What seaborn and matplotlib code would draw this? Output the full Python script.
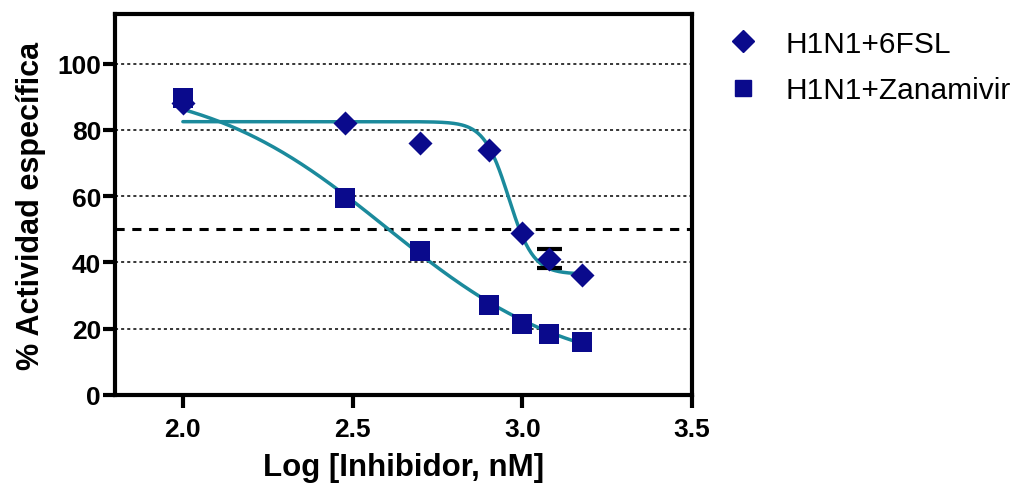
import numpy as np
import pandas as pd
import matplotlib
matplotlib.use("Agg")
import matplotlib.pyplot as plt
import seaborn as sns
from matplotlib.lines import Line2D

# ---- data ----
log_conc = [2.0, 2.477, 2.699, 2.903, 3.0, 3.079, 3.176]
fsl_vals = [88, 82, 76, 74, 49, 41.2, 36.3]
fsl_err = [0, 0, 0, 0, 0, 2.8, 0]
zan_vals = [89.5, 59.5, 43.5, 27.2, 21.5, 18.5, 16.0]

# 4-parameter logistic fits (bottom, top, logIC50, hill)
fsl_fit = [36.5, 82.5, 2.96, 12.0]
zan_fit = [6.0, 95.0, 2.60, 1.6]

series_names = ["H1N1+6FSL", "H1N1+Zanamivir"]
x_ticks = [2.0, 2.5, 3.0, 3.5]
y_ticks = [0, 20, 40, 60, 80, 100]
grid_lines = [20, 40, 60, 80, 100]
ref_line = 50


def four_pl(x, p):
    b, t, ic, h = p
    return b + (t - b) / (1 + 10 ** ((x - ic) * h))


sns.set_theme(style="white")
plt.rcParams['font.family'] = ['Liberation Sans', 'DejaVu Sans']
plt.rcParams['text.color'] = 'black'
plt.rcParams['axes.labelcolor'] = 'black'
plt.rcParams['xtick.color'] = 'black'
plt.rcParams['ytick.color'] = 'black'

fig = plt.figure(figsize=(10.16, 4.85), dpi=100)
ax = fig.add_axes([115 / 1016, 1 - 396 / 485, (692 - 115) / 1016, (396 - 15) / 485])

marker_col = "#0a0a8c"
curve_col = "#1b8a9c"

for g in grid_lines:
    ax.axhline(g, color="black", lw=1.1, ls=(0, (2, 2)), zorder=1)
ax.axhline(ref_line, color="black", lw=2.2, ls=(0, (3, 2.5)), zorder=1)

xs = np.linspace(log_conc[0], log_conc[-1], 300)
curves = pd.concat([
    pd.DataFrame({"x": xs, "y": four_pl(xs, fsl_fit), "s": series_names[0]}),
    pd.DataFrame({"x": xs, "y": four_pl(xs, zan_fit), "s": series_names[1]}),
])
sns.lineplot(data=curves, x="x", y="y", hue="s", palette=[curve_col, curve_col],
             lw=2.5, legend=False, ax=ax, zorder=2)

ax.errorbar(log_conc, fsl_vals, yerr=[e if e > 0 else np.nan for e in fsl_err],
            fmt="none", ecolor="black", elinewidth=2.5, capsize=9, capthick=3, zorder=3)

pts = pd.concat([
    pd.DataFrame({"x": log_conc, "y": fsl_vals, "s": series_names[0]}),
    pd.DataFrame({"x": log_conc, "y": zan_vals, "s": series_names[1]}),
])
sns.scatterplot(data=pts[pts.s == series_names[0]], x="x", y="y", marker="D", s=150,
                color=marker_col, edgecolor=marker_col, linewidth=0, ax=ax, zorder=4, legend=False)
sns.scatterplot(data=pts[pts.s == series_names[1]], x="x", y="y", marker="s", s=190,
                color=marker_col, edgecolor=marker_col, linewidth=0, ax=ax, zorder=4, legend=False)

ax.set_xlim(1.8, 3.5)
ax.set_ylim(0, 115)
ax.set_xticks(x_ticks)
ax.set_xticklabels([f"{v:.1f}" for v in x_ticks])
ax.set_yticks(y_ticks)
ax.set_yticklabels([str(v) for v in y_ticks])
ax.tick_params(axis="both", direction="out", length=9, width=3, labelsize=19,
               left=True, bottom=True, colors="black")
for lab in ax.get_xticklabels() + ax.get_yticklabels():
    lab.set_fontweight("bold")
ax.tick_params(axis="x", pad=7)
ax.tick_params(axis="y", pad=1)
for sp in ax.spines.values():
    sp.set_linewidth(3)
    sp.set_color("black")

ax.set_xlabel("Log [Inhibidor, nM]", fontsize=22.5, fontweight="bold", labelpad=8)
ax.set_ylabel("% Actividad específica", fontsize=22, fontweight="bold", labelpad=8)

handles = [
    Line2D([], [], marker="D", ls="none", color=marker_col, markersize=11),
    Line2D([], [], marker="s", ls="none", color=marker_col, markersize=12),
]
fig.legend(handles, series_names, loc="upper left", bbox_to_anchor=(697 / 1016, 1 - 4 / 485),
           frameon=False, fontsize=21.5, handletextpad=0.75, labelspacing=0.62, handlelength=1.3)

fig.savefig("out.png", dpi=100)
